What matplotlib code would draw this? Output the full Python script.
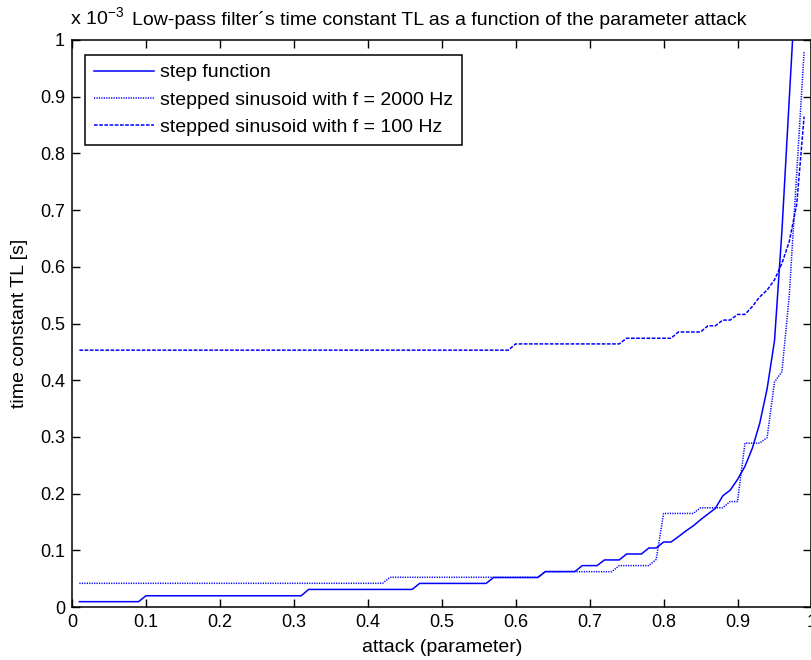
import numpy as np
import matplotlib
matplotlib.use("Agg")
import matplotlib.pyplot as plt

plt.rcParams['font.family'] = ['Liberation Sans', 'DejaVu Sans']

# attack parameter grid (0.01 ... 0.99)
attack = np.arange(1, 100) / 100

# time constant TL in units of 1e-3 s
step_fn = ([0.0094] * 9 + [0.0198] * 22 + [0.031] * 15 + [0.0416] * 10 +
           [0.052] * 7 + [0.0625] * 5 + [0.073] * 3 + [0.083] * 3 +
           [0.0935] * 3 + [0.104] * 2 + [0.1146] * 2 +
           [0.124, 0.134, 0.143, 0.154, 0.164, 0.174, 0.196, 0.206, 0.225,
            0.248, 0.28, 0.324, 0.385, 0.47, 0.663, 0.898, 1.13, 1.4])

sin_2000 = ([0.0418] * 42 + [0.0524] * 21 + [0.0623] * 10 + [0.073] * 5 +
            [0.084] + [0.165] * 5 + [0.175] * 4 + [0.186] * 2 + [0.289] * 3 +
            [0.299, 0.397, 0.415, 0.55, 0.765, 0.98])

sin_100 = ([0.453] * 59 + [0.464] * 15 + [0.474] * 7 + [0.485] * 4 +
           [0.496] * 2 + [0.506] * 2 + [0.516] * 2 +
           [0.53, 0.547, 0.559, 0.577, 0.606, 0.645, 0.71, 0.865])

labels = ['step function', 'stepped sinusoid with f = 2000 Hz',
          'stepped sinusoid with f = 100 Hz']

fs = 14

fig = plt.figure(figsize=(8.12, 6.6), dpi=100)
ax = fig.add_axes([72 / 812, 1 - 607 / 660, 739.5 / 812, 567 / 660])

ax.plot(attack, step_fn, color='blue', lw=1.1, label=labels[0])
ax.plot(attack, sin_2000, color='blue', lw=1.1, ls=(0, (0.8, 0.8)), label=labels[1])
ax.plot(attack, sin_100, color='blue', lw=1.1, ls=(0, (2.4, 1.0)), label=labels[2])

ax.set_xlim(0, 1)
ax.set_ylim(0, 1)
ticks = np.round(np.arange(0, 1.01, 0.1), 1)
ax.set_xticks(ticks)
ax.set_yticks(ticks)
ax.set_xticklabels(['%g' % t for t in ticks])
ax.set_yticklabels(['%g' % t for t in ticks])
ax.tick_params(direction='in', length=5.5, width=1, top=True, right=True,
               labelsize=13, pad=5)
for s in ax.spines.values():
    s.set_linewidth(1.1)

ax.set_xlabel('attack (parameter)', fontsize=fs, va='top')
ax.xaxis.set_label_coords(0.5, -0.056)
ax.set_ylabel('time constant TL [s]', fontsize=fs)
ax.yaxis.set_label_coords(-0.06, 0.5)

fig.text(70 / 812, 1 - 25 / 660, r'x 10$^{\mathregular{-3}}$', fontsize=fs, va='baseline')
fig.text(132 / 812, 1 - 25 / 660,
         'Low-pass filter\u00b4s time constant TL as a function of the parameter attack',
         fontsize=fs, va='baseline')

leg = ax.legend(loc='upper left', bbox_to_anchor=(13 / 739.5, 552 / 567),
                borderaxespad=0, fancybox=False, framealpha=1, edgecolor='black',
                fontsize=fs, handlelength=3.1, handletextpad=0.32,
                labelspacing=0.5, borderpad=0.45)
leg.get_frame().set_linewidth(1.1)

fig.savefig('out.png', dpi=100)
